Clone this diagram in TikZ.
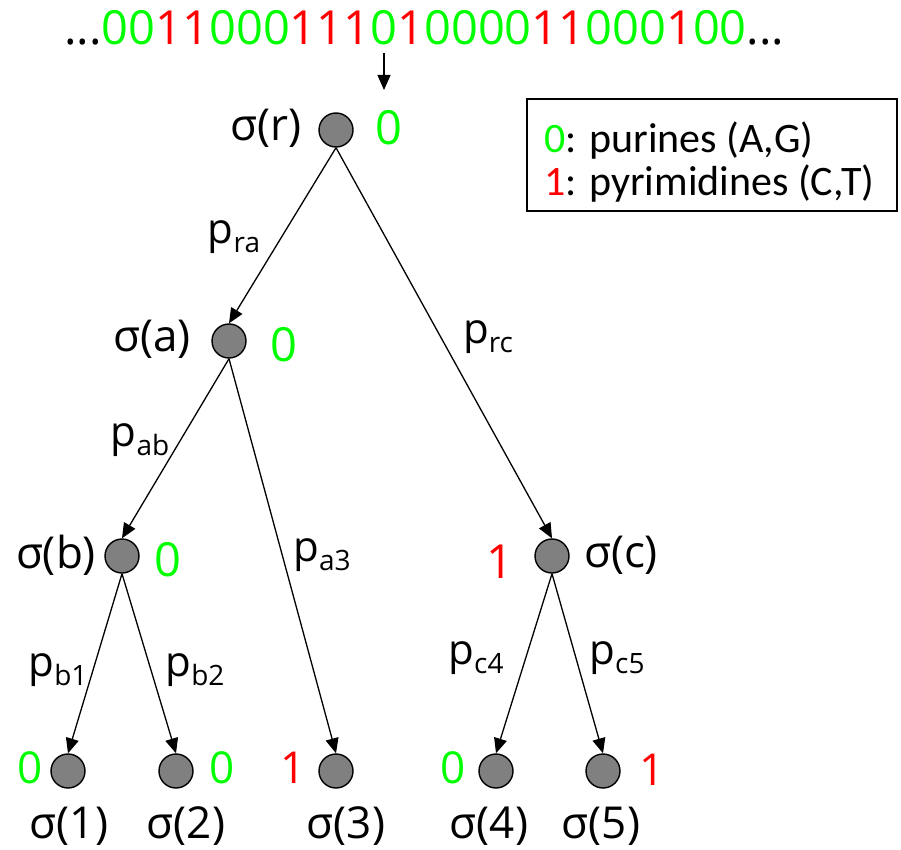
\documentclass[tikz,border=0pt]{standalone}
\usepackage{fontspec}
\setmainfont{Open Sans}
\newfontfamily\legfont{Carlito}
\usetikzlibrary{arrows.meta}
\definecolor{zg}{RGB}{0,255,0}
\definecolor{zr}{RGB}{255,0,0}
\newcommand{\gz}{\textcolor{zg}{0}}
\newcommand{\rd}{\textcolor{zr}{1}}
\newcommand{\psb}[1]{p\raisebox{-9pt}{\fontsize{28}{28}\selectfont #1}}
\begin{document}
\begin{tikzpicture}[x=1pt,y=-1pt,
  vtx/.style={circle,draw,fill=gray,minimum size=34pt,inner sep=0pt,line width=1.4pt},
  lab/.style={font=\fontsize{44}{48}\selectfont,inner sep=0pt},
  val/.style={font=\fontsize{47}{48}\selectfont,inner sep=0pt},
  lval/.style={font=\fontsize{44}{46}\selectfont,inner sep=0pt},
  elab/.style={font=\fontsize{42}{46}\selectfont,inner sep=0pt},
  seq/.style={font=\fontsize{47}{48}\selectfont,inner sep=0pt,outer sep=0pt},
  leg/.style={font=\legfont\fontsize{42}{44}\selectfont,inner sep=0pt},
  arr/.style={line width=1.3pt,-{Triangle[length=15pt,width=13pt]}}]
\useasboundingbox (0,0) rectangle (901,850);

% top sequence
\node[seq,anchor=base] (d) at (384,45) {\gz};
\node[seq,anchor=base east] (seqL) at (d.base west) {...\gz\gz\rd\rd\gz\gz\gz\rd\rd\rd};
\node[seq,anchor=base west] (seqR) at (d.base east) {\rd\gz\gz\gz\gz\rd\rd\gz\gz\gz\rd\gz\gz...};
\coordinate (tip) at (384,90);
\draw[arr] ([yshift=-8pt]d.south) -- (tip);

% legend
\node[draw,line width=1.4pt,minimum width=370pt,minimum height=112pt,inner sep=0pt] (legbox) at (712,155) {};
\node[leg,anchor=base west] (leg1) at (544,153) {\gz: purines (A,G)};
\node[leg,anchor=base west] (leg2) at (544,196) {\rd: pyrimidines (C,T)};

% vertices
\node[vtx] (r) at (336,130) {};
\node[vtx] (a) at (229,341) {};
\node[vtx] (b) at (122,556) {};
\node[vtx] (c) at (552,556) {};
\node[vtx] (l1) at (68,771) {};
\node[vtx] (l2) at (176,771) {};
\node[vtx] (l3) at (336,771) {};
\node[vtx] (l4) at (496,771) {};
\node[vtx] (l5) at (603,771) {};

% edges
\draw[arr] (r.south) -- (a.north);
\draw[arr] (r.south) -- (c.north);
\draw[arr] (a.south) -- (b.north);
\draw[arr] (a.south) -- (l3.north);
\draw[arr] (b.south) -- (l1.north);
\draw[arr] (b.south) -- (l2.north);
\draw[arr] (c.south) -- (l4.north);
\draw[arr] (c.south) -- (l5.north);

% sigma labels
\node[lab] (sr) at (266,128) {σ(r)};
\node[lab] (sa) at (152,339) {σ(a)};
\node[lab] (sb) at (56,555) {σ(b)};
\node[lab] (sc) at (621,555) {σ(c)};
\node[lab] (s1) at (69,826) {σ(1)};
\node[lab] (s2) at (186,826) {σ(2)};
\node[lab] (s3) at (346,826) {σ(3)};
\node[lab] (s4) at (489,826) {σ(4)};
\node[lab] (s5) at (601,826) {σ(5)};

% values
\node[val] (vr) at (389,128) {\gz};
\node[val] (va) at (284,345) {\gz};
\node[val] (vb) at (168,560) {\gz};
\node[val] (vc) at (500,562) {\rd};
\node[lval] (v1) at (30,768) {\gz};
\node[lval] (v2) at (222,768) {\gz};
\node[lval] (v3) at (293,768) {\rd};
\node[lval] (v4) at (453,768) {\gz};
\node[lval] (v5) at (652,770) {\rd};

% edge labels
\node[elab] (pra) at (234,237) {\psb{ra}};
\node[elab] (prc) at (488,337) {\psb{rc}};
\node[elab] (pab) at (140,440) {\psb{ab}};
\node[elab] (pa3) at (322,555) {\psb{a3}};
\node[elab] (pb1) at (58,670) {\psb{b1}};
\node[elab] (pb2) at (195,670) {\psb{b2}};
\node[elab] (pc4) at (476,658) {\psb{c4}};
\node[elab] (pc5) at (617,658) {\psb{c5}};
\end{tikzpicture}
\end{document}
